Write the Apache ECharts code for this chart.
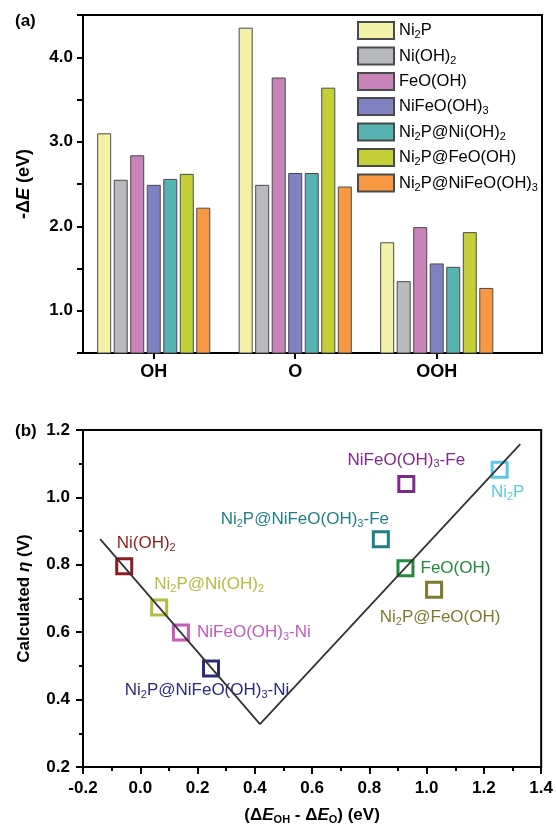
<!DOCTYPE html>
<html>
<head>
<meta charset="utf-8">
<script src="https://cdn.jsdelivr.net/npm/echarts@6/dist/echarts.min.js"></script>
<style>
html,body{margin:0;padding:0;background:#fff;}
#c{width:556px;height:826px;}
</style>
</head>
<body>
<div id="c"></div>
<script>
// ---------- Panel (a) data ----------
const categories = ['OH', 'O', 'OOH'];
const barSeriesNames = ['Ni2P', 'Ni(OH)2', 'FeO(OH)', 'NiFeO(OH)3', 'Ni2P@Ni(OH)2', 'Ni2P@FeO(OH)', 'Ni2P@NiFeO(OH)3'];
const ni2p        = [3.10, 4.35, 1.81];
const niOH2       = [2.55, 2.49, 1.35];
const feOOH       = [2.84, 3.76, 1.99];
const niFeOOH3    = [2.49, 2.63, 1.56];
const ni2pNiOH2   = [2.56, 2.63, 1.52];
const ni2pFeOOH   = [2.62, 3.64, 1.93];
const ni2pNiFeOOH3= [2.22, 2.47, 1.27];
const barValues = [ni2p, niOH2, feOOH, niFeOOH3, ni2pNiOH2, ni2pFeOOH, ni2pNiFeOOH3];
const yTicksA = [1.0, 2.0, 3.0, 4.0];

// ---------- Panel (b) data ----------
const pointNames = ['Ni(OH)2', 'Ni2P@Ni(OH)2', 'NiFeO(OH)3-Ni', 'Ni2P@NiFeO(OH)3-Ni', 'NiFeO(OH)3-Fe', 'Ni2P', 'Ni2P@NiFeO(OH)3-Fe', 'FeO(OH)', 'Ni2P@FeO(OH)'];
const pointX = [-0.056, 0.066, 0.142, 0.247, 0.929, 1.255, 0.840, 0.926, 1.026];
const pointY = [0.796, 0.673, 0.599, 0.492, 1.040, 1.082, 0.876, 0.790, 0.726];
const volcanoX = [-0.14, 0.418, 1.327];
const volcanoY = [0.876, 0.327, 1.158];

// ---------- styles ----------
const barColors = ['#F3F1A7', '#B9BABD', '#C883BA', '#7F81C1', '#57B3B1', '#C5CF37', '#F99842'];
const pointColors = ['#8E1B1F', '#B5BB3A', '#C35BBB', '#2B2A7C', '#7D2A8C', '#5CC8E2', '#1E7F82', '#23893F', '#7D7A2E'];
const labelOffsets = [[22, -23], [50, -23], [73, 0], [-4, 22], [0, -24], [8, 23], [-76, -20], [50, 0], [6, 28]];

const FONT = 'Liberation Sans, Arial, Helvetica, sans-serif';
function sub(s) { return s.replace(/(\d)/g, '{s|$1}'); }
const subRich = { s: { fontSize: 11, padding: [9, 0, 0, 0], fontFamily: FONT } };

const chart = echarts.init(document.getElementById('c'), null, { renderer: 'canvas' });

const series = [];
barSeriesNames.forEach((nm, i) => {
  series.push({
    type: 'bar', name: nm, xAxisIndex: 0, yAxisIndex: 0,
    data: barValues[i].map((v, k) => [k, v]),
    barWidth: 14, barGap: '18%',
    itemStyle: { color: barColors[i], borderColor: '#4a4a4a', borderWidth: 1 },
    clip: true
  });
});

series.push({
  type: 'line', xAxisIndex: 1, yAxisIndex: 1, z: 5,
  data: volcanoX.map((x, i) => [x, volcanoY[i]]),
  symbol: 'none', lineStyle: { color: '#333', width: 1.8 }, silent: true
});

series.push({
  type: 'scatter', xAxisIndex: 1, yAxisIndex: 1, z: 2,
  symbol: 'rect', symbolSize: 15,
  data: pointNames.map((nm, i) => ({
    name: nm, value: [pointX[i], pointY[i]],
    itemStyle: { color: 'rgba(0,0,0,0)', borderColor: pointColors[i], borderWidth: 3, opacity: 1 },
    label: { color: pointColors[i], offset: labelOffsets[i] }
  })),
  itemStyle: { opacity: 1 },
  label: {
    show: true, position: 'inside', align: 'center', verticalAlign: 'middle',
    fontSize: 17, fontFamily: FONT,
    formatter: p => sub(p.name), rich: subRich
  }
});

const axisLineStyle = { color: '#000', width: 2 };
const tickLabelStyle = { color: '#000', fontSize: 17, fontWeight: 'bold', fontFamily: FONT };

chart.setOption({
  animation: false,
  backgroundColor: '#fff',
  title: [
    { text: '(a)', left: 10, top: 8, textStyle: { fontSize: 17, fontWeight: 'bold', fontFamily: FONT, color: '#000' } },
    { text: '(b)', left: 10, top: 418, textStyle: { fontSize: 17, fontWeight: 'bold', fontFamily: FONT, color: '#000' } }
  ],
  legend: {
    orient: 'vertical', left: 357, top: 21, padding: 0, itemWidth: 36, itemHeight: 17, itemGap: 6,
    icon: 'rect', selectedMode: false,
    data: barSeriesNames,
    formatter: n => sub(n),
    textStyle: { fontSize: 16.5, fontFamily: FONT, color: '#000', rich: subRich }
  },
  grid: [
    { left: 83, right: 14, top: 15, bottom: 473, show: true, borderColor: '#000', borderWidth: 2, containLabel: false },
    { left: 83, right: 14, top: 430, bottom: 56, show: true, borderColor: '#000', borderWidth: 2, containLabel: false }
  ],
  xAxis: [
    {
      gridIndex: 0, type: 'value', min: -0.5, max: 2.744,
      axisLine: { show: true, onZero: false, lineStyle: axisLineStyle },
      axisTick: { show: true, customValues: [0, 1, 2], length: 6, lineStyle: { color: '#000', width: 2 } },
      axisLabel: { customValues: [0, 1, 2], formatter: v => categories[Math.round(v)], margin: 10, ...tickLabelStyle, fontSize: 18 },
      splitLine: { show: false }
    },
    {
      gridIndex: 1, type: 'value', min: -0.2, max: 1.4, interval: 0.2,
      axisLine: { show: true, onZero: false, lineStyle: axisLineStyle },
      axisTick: { show: true, length: 7, lineStyle: { color: '#000', width: 2 } },
      minorTick: { show: true, splitNumber: 2, length: 4, lineStyle: { color: '#000', width: 2 } },
      axisLabel: { formatter: v => v.toFixed(1), margin: 13, ...tickLabelStyle },
      splitLine: { show: false }, minorSplitLine: { show: false },
      name: '(Δ{i|E}{sb|OH} - Δ{i|E}{sb|O}) (eV)', nameLocation: 'middle', nameGap: 38,
      nameTextStyle: {
        fontSize: 17, fontWeight: 'bold', fontFamily: FONT, color: '#000',
        rich: {
          i: { fontSize: 17, fontWeight: 'bold', fontStyle: 'italic', fontFamily: FONT },
          sb: { fontSize: 11, fontWeight: 'bold', padding: [9, 0, 0, 0], fontFamily: FONT }
        }
      }
    }
  ],
  yAxis: [
    {
      gridIndex: 0, type: 'value', min: 0.5, max: 4.5, interval: 0.5,
      axisLine: { show: true, onZero: false, lineStyle: axisLineStyle },
      axisTick: { show: true, length: 6, lineStyle: { color: '#000', width: 2 } },
      axisLabel: { customValues: yTicksA, formatter: v => v.toFixed(1), margin: 10, ...tickLabelStyle },
      splitLine: { show: false },
      name: '{b|-Δ}{i|E}{b| (eV)}', nameLocation: 'middle', nameGap: 50,
      nameTextStyle: {
        rich: {
          b: { fontSize: 18, fontWeight: 'bold', fontFamily: FONT, color: '#000' },
          i: { fontSize: 18, fontWeight: 'bold', fontStyle: 'italic', fontFamily: FONT, color: '#000' }
        }
      }
    },
    {
      gridIndex: 1, type: 'value', min: 0.2, max: 1.2, interval: 0.2,
      axisLine: { show: true, onZero: false, lineStyle: axisLineStyle },
      axisTick: { show: true, length: 7, lineStyle: { color: '#000', width: 2 } },
      minorTick: { show: true, splitNumber: 2, length: 4, lineStyle: { color: '#000', width: 2 } },
      axisLabel: { formatter: v => v.toFixed(1), margin: 13, ...tickLabelStyle },
      splitLine: { show: false }, minorSplitLine: { show: false },
      name: '{b|Calculated }{i|η}{b| (V)}', nameLocation: 'middle', nameGap: 50,
      nameTextStyle: {
        rich: {
          b: { fontSize: 17, fontWeight: 'bold', fontFamily: FONT, color: '#000' },
          i: { fontSize: 17, fontWeight: 'bold', fontStyle: 'italic', fontFamily: FONT, color: '#000' }
        }
      }
    }
  ],
  series: series
});
</script>
</body>
</html>
